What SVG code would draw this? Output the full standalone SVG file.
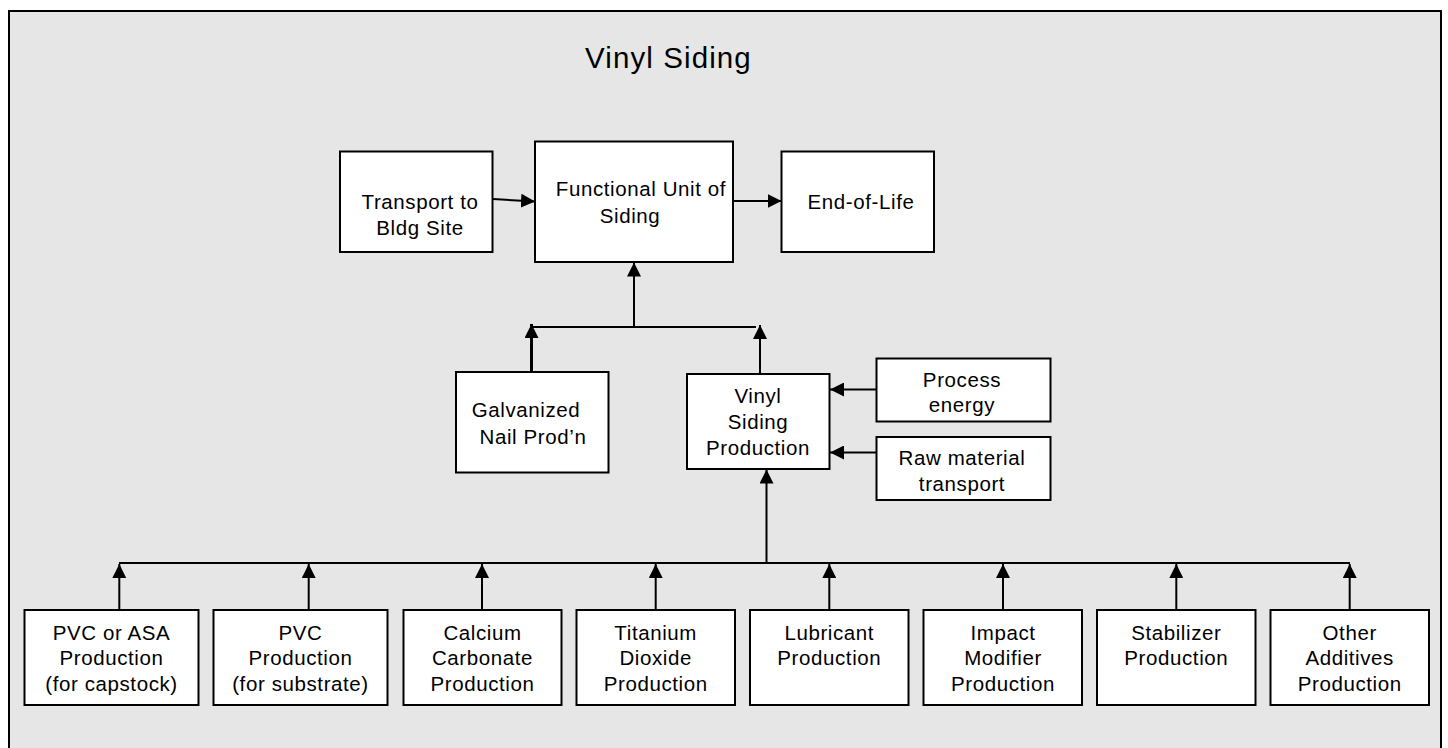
<svg xmlns="http://www.w3.org/2000/svg" width="1448" height="748" viewBox="0 0 1448 748">
<defs>
<style>
.box{fill:#ffffff;stroke:#000000;stroke-width:2}
.t{font-family:"Liberation Sans",Arial,sans-serif;font-size:20.5px;fill:#000000;text-anchor:middle;letter-spacing:0.6px}
.title{font-family:"Liberation Sans",Arial,sans-serif;font-size:29.5px;fill:#000000;letter-spacing:1.1px}
.c{fill:none;stroke:#000000;stroke-width:2}
</style>
<marker id="ah" markerUnits="userSpaceOnUse" markerWidth="14" markerHeight="14" refX="14" refY="7" orient="auto">
<path d="M0,0 L14,7 L0,14 Z" fill="#000000"/>
</marker>
</defs>
<rect x="0" y="0" width="1448" height="748" fill="#ffffff"/>
<rect id="frame" x="9" y="11" width="1432" height="745" fill="#e6e6e6" stroke="#000000" stroke-width="2"/>
<text class="title" x="585" y="68">Vinyl Siding</text>

<g id="connectors">
<line class="c" x1="493" y1="199" x2="535" y2="201.5" marker-end="url(#ah)"/>
<line class="c" x1="733" y1="201" x2="781.5" y2="201" marker-end="url(#ah)"/>
<line class="c" x1="634" y1="327" x2="634" y2="262.5" marker-end="url(#ah)"/>
<line class="c" x1="530" y1="327" x2="756" y2="327"/>
<line x1="531.5" y1="372" x2="531.5" y2="324" stroke="#000" stroke-width="3" marker-end="url(#ah)"/>
<line class="c" x1="760" y1="374" x2="760" y2="325" marker-end="url(#ah)"/>
<line class="c" x1="876" y1="389.5" x2="830" y2="389.5" marker-end="url(#ah)"/>
<line class="c" x1="876" y1="452.5" x2="830" y2="452.5" marker-end="url(#ah)"/>
<line class="c" x1="766.5" y1="563" x2="766.5" y2="469.5" marker-end="url(#ah)"/>
<line class="c" x1="119" y1="563" x2="1350" y2="563"/>
<line class="c" x1="119.3" y1="610" x2="119.3" y2="564" marker-end="url(#ah)"/>
<line class="c" x1="308.7" y1="610" x2="308.7" y2="564" marker-end="url(#ah)"/>
<line class="c" x1="482" y1="610" x2="482" y2="564" marker-end="url(#ah)"/>
<line class="c" x1="655.7" y1="610" x2="655.7" y2="564" marker-end="url(#ah)"/>
<line class="c" x1="829.3" y1="610" x2="829.3" y2="564" marker-end="url(#ah)"/>
<line class="c" x1="1003" y1="610" x2="1003" y2="564" marker-end="url(#ah)"/>
<line class="c" x1="1176.3" y1="610" x2="1176.3" y2="564" marker-end="url(#ah)"/>
<line class="c" x1="1349.7" y1="610" x2="1349.7" y2="564" marker-end="url(#ah)"/>
</g>

<g id="transport">
<rect class="box" x="340" y="151.5" width="152.5" height="100.5"/>
<text class="t" x="420" y="209">Transport to</text>
<text class="t" x="420" y="234.5">Bldg Site</text>
</g>
<g id="functional-unit">
<rect class="box" x="535" y="141.5" width="198" height="120.5"/>
<text class="t" x="641" y="196">Functional Unit of</text>
<text class="t" x="630" y="223">Siding</text>
</g>
<g id="end-of-life">
<rect class="box" x="781.5" y="151.5" width="152.5" height="100.5"/>
<text class="t" x="861" y="209">End-of-Life</text>
</g>
<g id="galvanized-nail">
<rect class="box" x="456" y="372" width="152.5" height="100.5"/>
<text class="t" x="526" y="417">Galvanized</text>
<text class="t" x="533" y="444">Nail Prod’n</text>
</g>
<g id="vinyl-siding-production">
<rect class="box" x="687" y="374" width="142.5" height="95"/>
<text class="t" x="758" y="403">Vinyl</text>
<text class="t" x="758" y="428.5">Siding</text>
<text class="t" x="758" y="455">Production</text>
</g>
<g id="process-energy">
<rect class="box" x="876.5" y="358.5" width="174" height="63"/>
<text class="t" x="962" y="387">Process</text>
<text class="t" x="962" y="412">energy</text>
</g>
<g id="raw-material-transport">
<rect class="box" x="876.5" y="437" width="174" height="63"/>
<text class="t" x="962" y="465">Raw material</text>
<text class="t" x="962" y="490.5">transport</text>
</g>

<g id="pvc-asa">
<rect class="box" x="24.5" y="610" width="174" height="95"/>
<text class="t" x="111.5" y="639.5">PVC or ASA</text>
<text class="t" x="111.5" y="665">Production</text>
<text class="t" x="111.5" y="690.5">(for capstock)</text>
</g>
<g id="pvc-substrate">
<rect class="box" x="213.5" y="610" width="174" height="95"/>
<text class="t" x="300.5" y="639.5">PVC</text>
<text class="t" x="300.5" y="665">Production</text>
<text class="t" x="300.5" y="690.5">(for substrate)</text>
</g>
<g id="calcium-carbonate">
<rect class="box" x="403.5" y="610" width="158" height="95"/>
<text class="t" x="482.5" y="639.5">Calcium</text>
<text class="t" x="482.5" y="665">Carbonate</text>
<text class="t" x="482.5" y="690.5">Production</text>
</g>
<g id="titanium-dioxide">
<rect class="box" x="576.5" y="610" width="158.5" height="95"/>
<text class="t" x="655.7" y="639.5">Titanium</text>
<text class="t" x="655.7" y="665">Dioxide</text>
<text class="t" x="655.7" y="690.5">Production</text>
</g>
<g id="lubricant">
<rect class="box" x="750" y="610" width="158.5" height="95"/>
<text class="t" x="829.3" y="639.5">Lubricant</text>
<text class="t" x="829.3" y="665">Production</text>
</g>
<g id="impact-modifier">
<rect class="box" x="923.5" y="610" width="158.5" height="95"/>
<text class="t" x="1003" y="639.5">Impact</text>
<text class="t" x="1003" y="665">Modifier</text>
<text class="t" x="1003" y="690.5">Production</text>
</g>
<g id="stabilizer">
<rect class="box" x="1097" y="610" width="158.5" height="95"/>
<text class="t" x="1176.3" y="639.5">Stabilizer</text>
<text class="t" x="1176.3" y="665">Production</text>
</g>
<g id="other-additives">
<rect class="box" x="1270.5" y="610" width="158.5" height="95"/>
<text class="t" x="1349.7" y="639.5">Other</text>
<text class="t" x="1349.7" y="665">Additives</text>
<text class="t" x="1349.7" y="690.5">Production</text>
</g>
</svg>
